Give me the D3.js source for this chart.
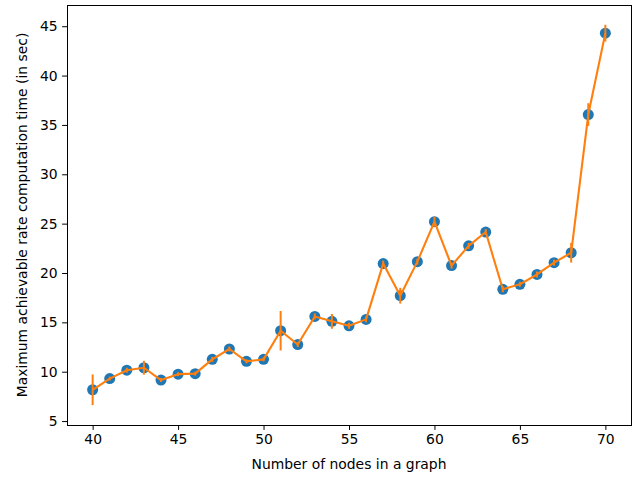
<!DOCTYPE html>
<html>
<head>
<meta charset="utf-8">
<script src="https://cdn.jsdelivr.net/npm/d3@7"></script>
<style>
  body { margin: 0; background: #fff; }
  text { font-family: "DejaVu Sans", sans-serif; }
</style>
</head>
<body>
<div id="wrapper"></div>
<script>
const nodes = [40, 41, 42, 43, 44, 45, 46, 47, 48, 49, 50, 51, 52, 53, 54, 55,
  56, 57, 58, 59, 60, 61, 62, 63, 64, 65, 66, 67, 68, 69, 70]
const times = [8.17, 9.3, 10.15, 10.4, 9.15, 9.75, 9.8, 11.25, 12.3, 11.05, 11.25,
  14.15, 12.75, 15.6, 15.1, 14.65, 15.3, 20.95, 17.7, 21.15, 25.2, 20.75,
  22.75, 24.15, 18.35, 18.85, 19.85, 21.05, 22.05, 36.05, 44.3]
const errors = [1.55, 0.2, 0.25, 0.7, 0.2, 0.2, 0.2, 0.25, 0.25, 0.2, 0.2,
  2.0, 0.25, 0.3, 0.75, 0.3, 0.3, 0.3, 0.8, 0.3, 0.5, 0.3,
  0.3, 0.3, 0.3, 0.25, 0.3, 0.3, 1.0, 1.15, 0.85]
const xTicks = [40, 45, 50, 55, 60, 65, 70]
const yTicks = [5, 10, 15, 20, 25, 30, 35, 40, 45]

const data = nodes.map((n, i) => ({n, t: times[i], e: errors[i]}))

const dimensions = {
  width: 642,
  height: 477,
  margin: {top: 5, right: 11, bottom: 52, left: 67}
}
dimensions.boundedWidth = dimensions.width - dimensions.margin.left - dimensions.margin.right
dimensions.boundedHeight = dimensions.height - dimensions.margin.top - dimensions.margin.bottom

const svg = d3.select("#wrapper")
  .append("svg")
  .attr("width", dimensions.width)
  .attr("height", dimensions.height)

const bounds = svg.append("g")
  .attr("transform", `translate(${dimensions.margin.left},${dimensions.margin.top})`)

// matplotlib style 5% padding
const xScale = d3.scaleLinear()
  .domain([38.5, 71.5])
  .range([0, dimensions.boundedWidth])

const yScale = d3.scaleLinear()
  .domain([4.6, 47.15])
  .range([dimensions.boundedHeight, 0])

// dots
bounds.append("g").selectAll("circle")
  .data(data)
  .enter().append("circle")
    .attr("cx", d => xScale(d.n))
    .attr("cy", d => yScale(d.t))
    .attr("r", 5.5)
    .attr("fill", "#1f77b4")

// error bars
bounds.append("g").selectAll("line")
  .data(data)
  .enter().append("line")
    .attr("x1", d => xScale(d.n))
    .attr("x2", d => xScale(d.n))
    .attr("y1", d => yScale(d.t - d.e))
    .attr("y2", d => yScale(d.t + d.e))
    .attr("stroke", "#ff7f0e")
    .attr("stroke-width", 2)

const lineGenerator = d3.line()
  .x(d => xScale(d.n))
  .y(d => yScale(d.t))

bounds.append("path")
  .datum(data)
  .attr("d", lineGenerator)
  .attr("fill", "none")
  .attr("stroke", "#ff7f0e")
  .attr("stroke-width", 2.1)
  .attr("stroke-linejoin", "round")

// axes
const xAxis = bounds.append("g")
  .attr("transform", `translate(0,${dimensions.boundedHeight})`)
  .call(d3.axisBottom(xScale).tickValues(xTicks).tickSize(4.9).tickPadding(4.5).tickSizeOuter(0))

const yAxis = bounds.append("g")
  .call(d3.axisLeft(yScale).tickValues(yTicks).tickSize(4.9).tickPadding(4.5).tickSizeOuter(0))

for (const ax of [xAxis, yAxis]) {
  ax.select(".domain").remove()
  ax.selectAll("text")
    .style("font-size", "13.9px")
    .style("font-family", "DejaVu Sans")
    .attr("fill", "#000")
  ax.selectAll("line").attr("stroke", "#000").attr("stroke-width", 1)
}

// frame
bounds.append("rect")
  .attr("x", 0)
  .attr("y", 0)
  .attr("width", dimensions.boundedWidth)
  .attr("height", dimensions.boundedHeight)
  .attr("fill", "none")
  .attr("stroke", "#000")
  .attr("stroke-width", 1)
  .attr("shape-rendering", "crispEdges")

svg.append("text")
  .attr("x", dimensions.margin.left + dimensions.boundedWidth / 2)
  .attr("y", 469)
  .attr("text-anchor", "middle")
  .style("font-size", "13.9px")
  .text("Number of nodes in a graph")

svg.append("text")
  .attr("transform", `translate(27,${dimensions.margin.top + dimensions.boundedHeight / 2}) rotate(-90)`)
  .attr("text-anchor", "middle")
  .style("font-size", "13.9px")
  .text("Maximum achievable rate computation time (in sec)")
</script>
</body>
</html>
